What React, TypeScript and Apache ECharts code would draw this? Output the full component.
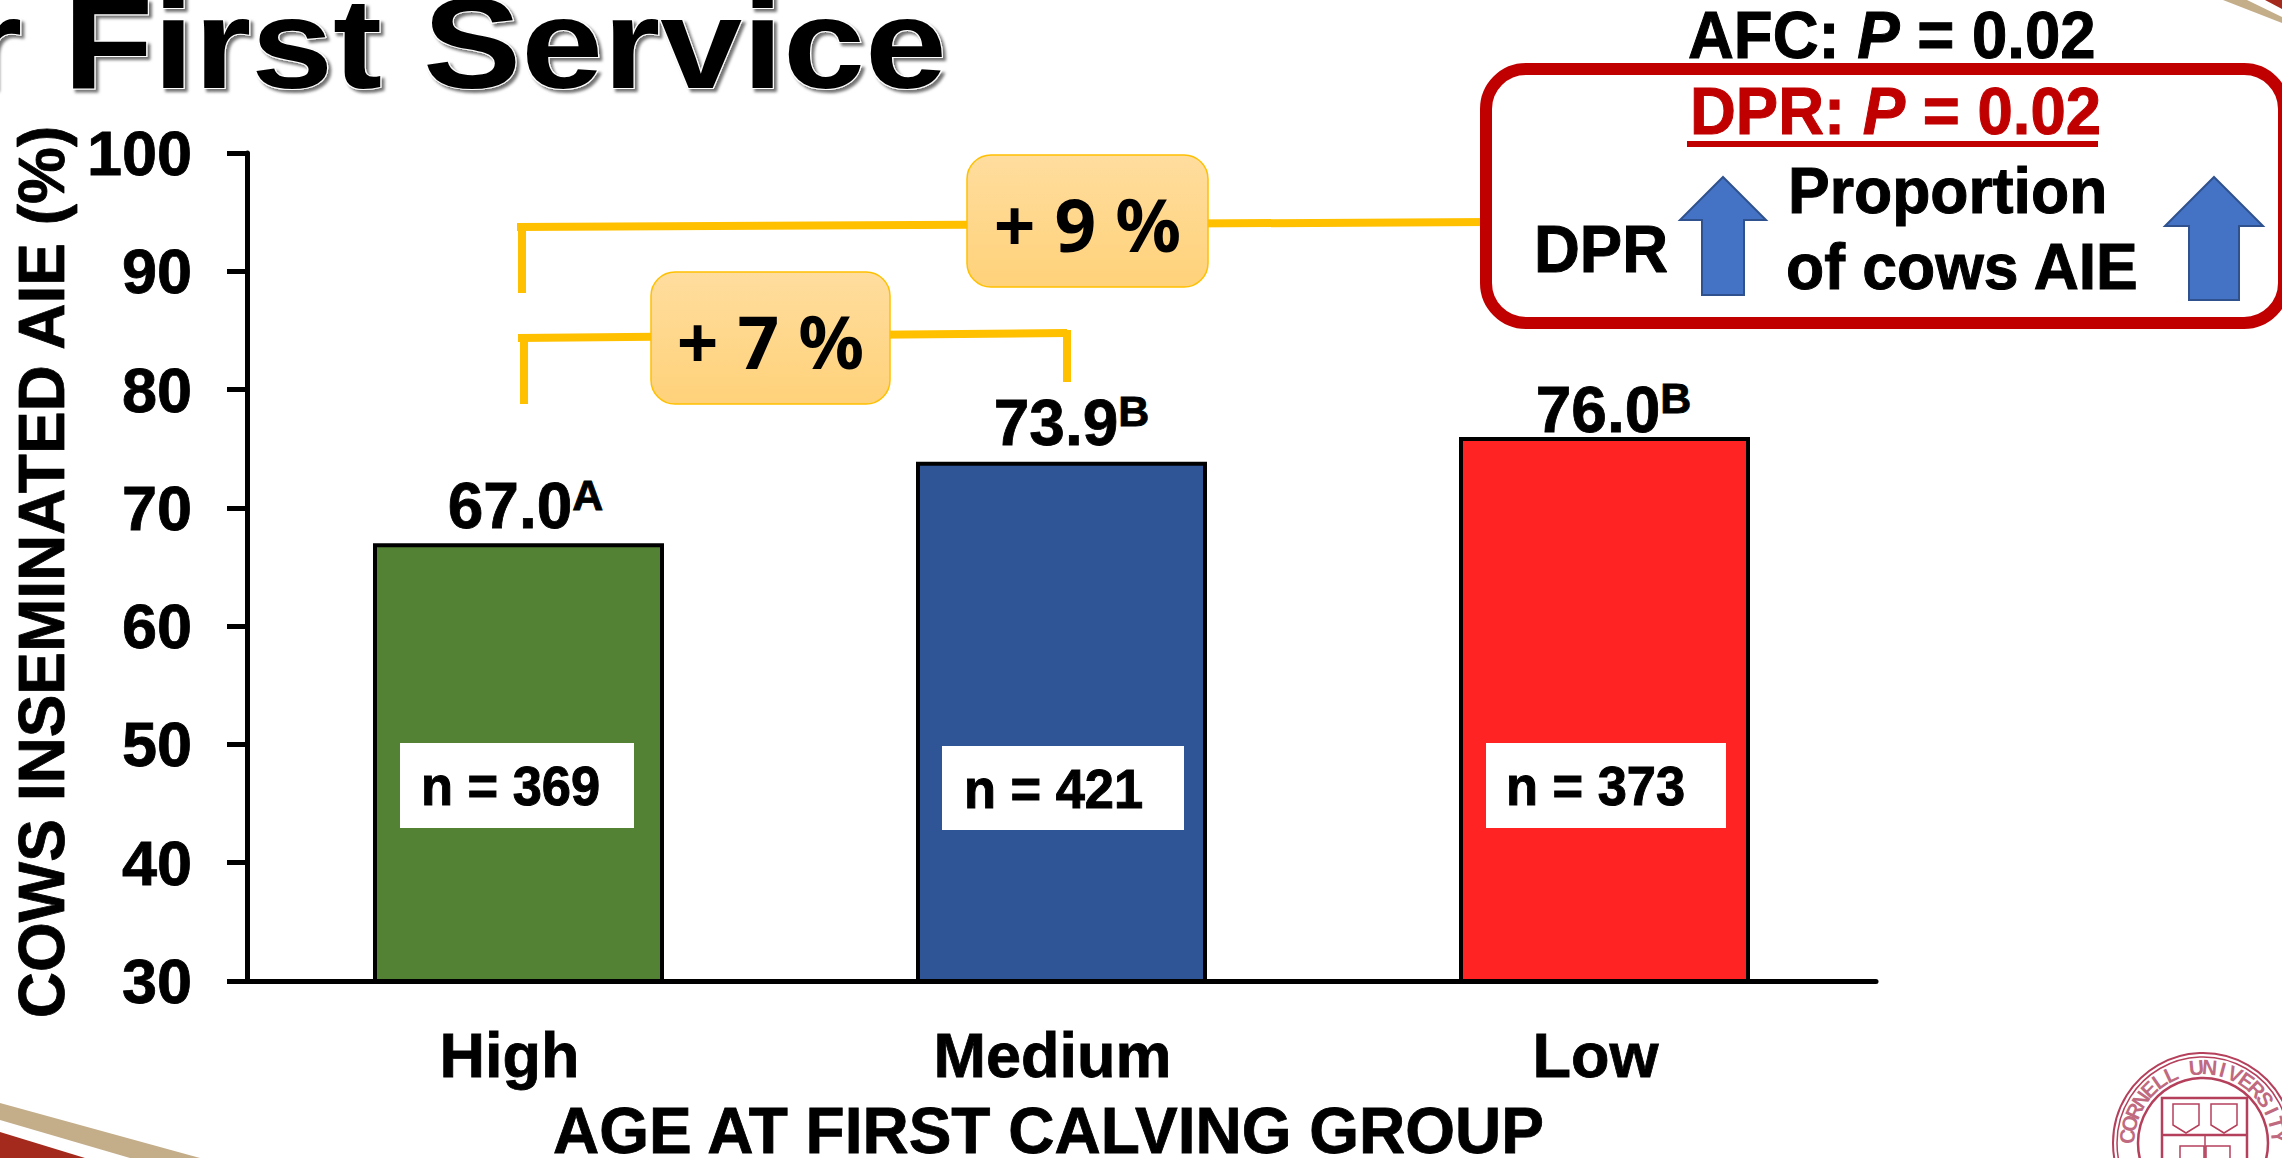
import React, { useEffect, useRef } from "react";
import * as echarts from "echarts";

const categories = ["High", "Medium", "Low"];
const aieValues = [67.0, 73.9, 76.0];
const sigLetters = ["A", "B", "B"];
const cowCounts = [369, 421, 373];
const barColors = ["#548235", "#2F5597", "#FF2323"];
const labelShifts = [7, 10, 9];
const labelGaps = [4, 6, -6];
const nBoxes = [
  [400, 743, 234, 85, 421, 805],
  [942, 746, 242, 84, 964, 808],
  [1486, 743, 240, 85, 1506, 805],
];
const sealLetters = "CORNELL UNIVERSITY".split("");

const FF = '"Liberation Sans", Arial, sans-serif';
const YEL = "#FFC000";
const RED = "#C00000";
const SEAL = "#B5405C";
const Z = 10;

function label(text: string, x: number, base: number, fs: number, fill = "#000") {
  const size = fs * 1.05;
  return {
    type: "text", z: Z + 2, x, y: base - 0.3465 * size, scaleX: 0.96,
    style: { text, x: 0, y: 0, fill, fontFamily: FF, fontWeight: "bold", fontSize: size, align: "left", verticalAlign: "middle", stroke: fill, lineWidth: 1 },
  };
}
function pValue(name: string, x: number, base: number, fs: number, fill: string) {
  const size = fs * 1.05;
  const b = { fill, fontFamily: FF, fontWeight: "bold", fontSize: size, stroke: fill, lineWidth: 1 };
  return {
    type: "text", z: Z + 2, x, y: base - 0.3465 * size, scaleX: 0.96,
    style: {
      text: `{b|${name}: }{i|P}{b| = 0.02}`, x: 0, y: 0, align: "left", verticalAlign: "middle",
      rich: { b, i: { ...b, fontStyle: "italic" } },
    },
  };
}
function seg(x1: number, y1: number, x2: number, y2: number, w: number, color = YEL) {
  return { type: "line", z: Z, shape: { x1, y1, x2, y2 }, style: { stroke: color, lineWidth: w } };
}
function poly(points: number[][], fill: string, stroke = "none", lineWidth = 0) {
  return { type: "polygon", z: Z, shape: { points }, style: { fill, stroke, lineWidth } };
}
function arrow(cx: number, tip: number, neck: number, bottom: number, hw: number, sw: number) {
  return poly(
    [[cx, tip], [cx + hw, neck], [cx + sw, neck], [cx + sw, bottom], [cx - sw, bottom], [cx - sw, neck], [cx - hw, neck]],
    "#4472C4", "#2F528F", 2
  );
}
function badge(x: number, y: number, w: number, h: number, text: string) {
  return [
    {
      type: "rect", z: Z + 1, shape: { x, y, width: w, height: h, r: 24 },
      style: {
        fill: { type: "linear", x: 0, y: 0, x2: 0, y2: 1, colorStops: [{ offset: 0, color: "#FFDD9E" }, { offset: 1, color: "#FFD27A" }] },
        stroke: YEL, lineWidth: 1.5,
      },
    },
    {
      type: "text", z: Z + 2, x: x + w / 2, y: y + h / 2 + 2,
      style: { text, x: 0, y: 0, fill: "#000", fontFamily: '"Noto Sans", sans-serif', fontWeight: "bold", fontSize: 73, align: "center", verticalAlign: "middle" },
    },
  ];
}
function seal() {
  const cx = 2203, cy = 1143;
  const ring = (r: number, w: number) => ({ type: "circle", z: Z, shape: { cx, cy, r }, style: { fill: "none", stroke: SEAL, lineWidth: w } });
  const letters = sealLetters.map((ch, i) => {
    const a = ((-85 + i * 10) * Math.PI) / 180;
    return {
      type: "text", z: Z, x: cx + 76 * Math.sin(a), y: cy - 76 * Math.cos(a), rotation: -a,
      style: { text: ch, x: 0, y: 0, fill: "#C06A80", fontFamily: FF, fontSize: 21, fontWeight: "bold", align: "center", verticalAlign: "middle" },
    };
  });
  const s = (l: number) => poly([[l, 1104], [l + 26, 1104], [l + 26, 1125], [l + 13, 1133], [l, 1125]], "#fff", SEAL, 1.5);
  return [
    ring(90, 2), ring(86, 1.5), ring(65, 2.5),
    { type: "rect", z: Z, shape: { x: 2162, y: 1098, width: 85, height: 80 }, style: { fill: "#fff", stroke: SEAL, lineWidth: 2.5 } },
    seg(2162, 1135, 2247, 1135, 2.5, SEAL), seg(2205, 1135, 2205, 1158, 1.5, SEAL),
    s(2173), s(2211),
    { type: "rect", z: Z, shape: { x: 2180, y: 1146, width: 24, height: 14 }, style: { fill: "#fff", stroke: SEAL, lineWidth: 1.5 } },
    { type: "rect", z: Z, shape: { x: 2206, y: 1146, width: 24, height: 14 }, style: { fill: "#fff", stroke: SEAL, lineWidth: 1.5 } },
    ...letters,
  ];
}

export default function App() {
  const ref = useRef<HTMLDivElement>(null);
  useEffect(() => {
    document.body.style.margin = "0";
    const chart = echarts.init(ref.current!, null, { renderer: "svg" });
    const axisText = { color: "#000", fontFamily: FF, fontWeight: "bold", fontSize: 63, textBorderColor: "#000", textBorderWidth: 0.8 };
    const richBase = { fontFamily: FF, fontWeight: "bold", color: "#000", textBorderColor: "#000", textBorderWidth: 0.8 };
    chart.setOption({
      animation: false,
      backgroundColor: "#fff",
      grid: { left: 247, right: 406, top: 153, bottom: 177, containLabel: false, outerBoundsMode: "none" },
      xAxis: {
        type: "category", data: categories,
        axisTick: { show: false },
        axisLine: { lineStyle: { color: "#000", width: 5 } },
        axisLabel: { ...axisText, margin: 42, padding: [0, 18, 0, 0] },
        name: "AGE AT FIRST CALVING GROUP", nameLocation: "middle", nameGap: 118,
        nameTextStyle: { ...axisText, fontSize: 64, padding: [0, 26, 0, 0] },
      },
      yAxis: {
        type: "value", min: 30, max: 100, interval: 10,
        splitLine: { show: false },
        axisLine: { show: true, lineStyle: { color: "#000", width: 5 } },
        axisTick: { show: true, length: 20, lineStyle: { color: "#000", width: 5 } },
        axisLabel: { ...axisText, margin: 55 },
        name: "COWS INSEMINATED AIE (%)", nameLocation: "middle", nameRotate: 90, nameGap: 173,
        nameTextStyle: { ...axisText, fontSize: 64, padding: [0, 10, 0, 0] },
      },
      series: [{
        type: "bar",
        barWidth: 291,
        data: aieValues.map((v, i) => ({
          value: v,
          itemStyle: { color: barColors[i], borderColor: "#000", borderWidth: 4 },
          label: {
            show: true, position: "top", distance: labelGaps[i], offset: [labelShifts[i], 0],
            formatter: `{a|${v.toFixed(1)}}{s|${sigLetters[i]}}`,
            rich: {
              a: { ...richBase, fontSize: 64, lineHeight: 66 },
              s: { ...richBase, fontSize: 43, lineHeight: 60, verticalAlign: "top" },
            },
          },
        })),
      }],
      graphic: [{
        type: "group",
        elements: [
          poly([[0, 1103], [200, 1158], [130, 1158], [0, 1120]], "#C4AE8A"),
          poly([[0, 1132], [85, 1158], [0, 1158]], "#A52A1E"),
          poly([[2223, 0], [2247, 0], [2282, 17], [2282, 23]], "#C4AE8A"),
          poly([[2265, 0], [2282, 0], [2282, 9]], "#A52A1E"),
          ...seal(),
          {
            type: "text", z: Z + 2, x: -35, y: 88 - 0.3465 * 128, scaleX: 1.15,
            style: {
              text: "r First Service", x: 0, y: 0, fill: "#000", fontFamily: FF, fontWeight: "bold", fontSize: 128,
              align: "left", verticalAlign: "middle", stroke: "#fff", lineWidth: 2,
              textShadowColor: "rgba(0,0,0,0.55)", textShadowBlur: 3, textShadowOffsetX: 3, textShadowOffsetY: 3,
            },
          },
          seg(517, 227, 1490, 222, 8), seg(522, 226, 522, 293, 8),
          seg(518, 338, 1067, 333, 8), seg(524, 338, 524, 404, 8), seg(1067, 330, 1067, 382, 8),
          ...badge(967, 155, 241, 132, "+ 9 %"),
          ...badge(651, 272, 239, 132, "+ 7 %"),
          ...nBoxes.flatMap((b, i) => [
            { type: "rect", z: Z, shape: { x: b[0], y: b[1], width: b[2], height: b[3] }, style: { fill: "#fff" } },
            label(`n = ${cowCounts[i]}`, b[4], b[5], 52),
          ]),
          { type: "rect", z: Z + 1, shape: { x: 1486, y: 69, width: 798, height: 254, r: 40 }, style: { fill: "#fff", stroke: RED, lineWidth: 12 } },
          pValue("AFC", 1688, 58, 63, "#000"),
          pValue("DPR", 1690, 134, 63, RED),
          { ...seg(1687, 144, 2098, 144, 6, RED), z: Z + 2 },
          label("DPR", 1534, 272, 63),
          label("Proportion", 1788, 213, 62),
          label("of cows AIE", 1786, 289, 62),
          { ...arrow(1723, 177, 220, 295, 43, 21), z: Z + 2 },
          { ...arrow(2214, 177, 226, 300, 49, 25), z: Z + 2 },
        ],
      }],
    });
    return () => chart.dispose();
  }, []);
  return <div ref={ref} style={{ width: 2282, height: 1158, position: "fixed", left: 0, top: 0 }} />;
}
